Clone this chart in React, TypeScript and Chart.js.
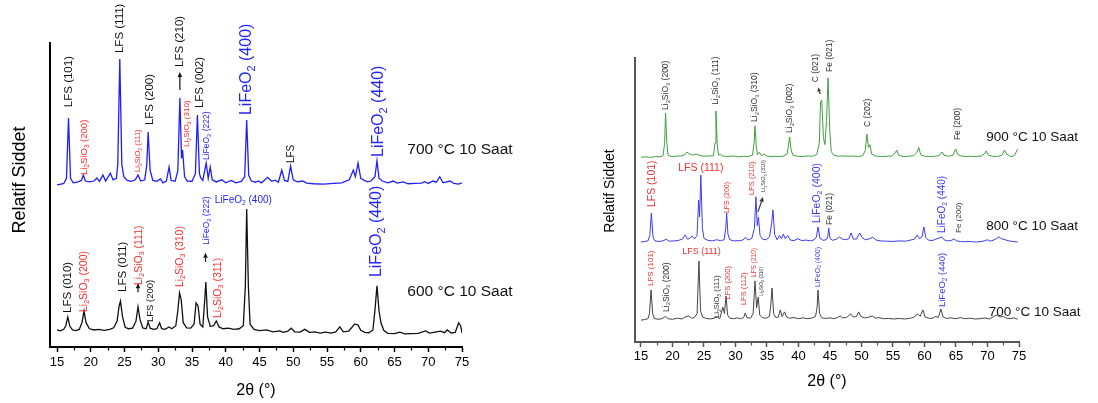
import React, { useEffect, useRef } from 'react';
import { Chart, registerables } from 'chart.js';
Chart.register(...registerables);

type P = [number, number];
type Ann = { x: number; y: number; t: string; c: string; s: number; m: 'v' | 'h' | 'l' };
type Arw = { x1: number; y1: number; x2: number; y2: number; c: string; h: number };

const FONT = '"Liberation Sans", Arial, Helvetica, sans-serif';

// ---------- axis ticks ----------
const xTickValues = [15, 20, 25, 30, 35, 40, 45, 50, 55, 60, 65, 70, 75];
const xMinorValues = [17.5, 22.5, 27.5, 32.5, 37.5, 42.5, 47.5, 52.5, 57.5, 62.5, 67.5, 72.5];
const xTitle = '2θ (°)';
const yTitle = 'Relatif Siddet';

// ---------- left panel series ----------
const left700: P[] = [
  [15.0, 53.3], [15.6, 53.6], [16.0, 53.8], [16.4, 55.5], [16.7, 75.3], [17.0, 55.5], [17.4, 54.0], [18.0, 54.2],
  [18.6, 54.8], [18.9, 56.5], [19.2, 54.6], [19.8, 54.3], [20.5, 54.6], [20.9, 55.6], [21.3, 54.5], [21.8, 56.6],
  [22.2, 54.6], [22.9, 57.2], [23.3, 55.0], [23.8, 55.5], [24.0, 60.0], [24.3, 94.7], [24.6, 60.0], [24.9, 56.0],
  [25.4, 54.8], [26.0, 54.5], [26.6, 55.0], [27.0, 56.6], [27.4, 54.6], [28.0, 55.0], [28.3, 60.0], [28.5, 70.7],
  [28.8, 58.0], [29.2, 54.8], [29.8, 54.5], [30.3, 55.3], [30.7, 54.0], [31.2, 54.6], [31.6, 59.2], [31.9, 54.8],
  [32.5, 54.5], [32.9, 58.0], [33.2, 81.9], [33.45, 62.0], [33.6, 64.8], [33.9, 56.0], [34.3, 54.6], [35.0, 54.5],
  [35.5, 57.0], [35.8, 76.3], [36.1, 57.0], [36.3, 55.6], [36.6, 54.8], [37.1, 60.5], [37.4, 55.5], [37.7, 59.2],
  [38.0, 55.0], [38.6, 54.3], [39.4, 55.0], [40.0, 54.0], [40.8, 54.8], [41.5, 54.0], [42.3, 54.5], [42.8, 56.0],
  [43.1, 74.7], [43.4, 56.5], [43.8, 54.6], [44.4, 54.2], [44.8, 54.6], [45.3, 54.0], [46.2, 55.8], [46.8, 54.5],
  [47.3, 54.9], [47.8, 54.2], [48.3, 58.2], [48.7, 54.8], [49.2, 54.5], [49.6, 59.5], [50.0, 55.0], [50.6, 54.3],
  [51.4, 54.6], [52.0, 53.9], [53.0, 53.7], [54.5, 53.6], [56.0, 53.8], [57.2, 54.0], [57.8, 54.6], [58.3, 55.0],
  [58.9, 58.2], [59.2, 56.0], [59.6, 60.5], [60.0, 55.5], [60.5, 54.8], [61.0, 54.3], [61.5, 54.6], [62.1, 56.0],
  [62.4, 61.2], [62.7, 55.5], [63.2, 54.6], [64.0, 54.0], [64.8, 54.6], [65.4, 53.9], [66.3, 54.3], [67.0, 53.7],
  [68.0, 53.8], [69.0, 53.9], [69.5, 54.4], [70.0, 53.8], [70.7, 54.6], [71.2, 54.2], [71.7, 56.0], [72.2, 54.0],
  [73.2, 54.6], [73.8, 53.8], [74.5, 53.6], [75.0, 54.0],
];

const left600: P[] = [
  [15.0, 5.6], [15.5, 5.3], [16.0, 5.8], [16.3, 7.0], [16.6, 9.9], [16.9, 6.8], [17.3, 5.6], [17.8, 5.4],
  [18.3, 5.8], [18.7, 8.0], [19.0, 11.8], [19.3, 8.0], [19.8, 6.0], [20.5, 5.6], [21.2, 5.8], [22.0, 5.5],
  [22.8, 5.8], [23.4, 6.3], [23.9, 8.5], [24.2, 13.5], [24.4, 15.1], [24.7, 10.0], [25.1, 6.5], [25.6, 6.0],
  [26.2, 6.2], [26.7, 8.5], [27.0, 13.2], [27.3, 9.0], [27.7, 6.3], [28.2, 6.0], [28.5, 8.2], [28.8, 6.2],
  [29.3, 5.8], [29.8, 6.0], [30.2, 8.0], [30.5, 6.0], [31.0, 5.8], [31.6, 6.6], [32.0, 6.0], [32.6, 7.0],
  [32.9, 12.0], [33.15, 17.8], [33.4, 15.5], [33.7, 8.0], [34.2, 6.3], [34.8, 6.2], [35.3, 7.5], [35.6, 14.5],
  [35.9, 13.5], [36.2, 7.5], [36.6, 6.6], [36.9, 16.0], [37.05, 21.4], [37.3, 10.0], [37.7, 6.8], [38.2, 7.0],
  [38.6, 8.6], [39.0, 6.6], [39.6, 6.0], [40.4, 6.2], [41.2, 5.8], [42.0, 6.0], [42.6, 7.0], [42.9, 20.0],
  [43.1, 45.4], [43.35, 20.0], [43.6, 7.5], [44.2, 5.8], [45.0, 5.4], [46.0, 5.6], [47.0, 5.0], [48.0, 5.3],
  [48.5, 4.8], [49.2, 5.2], [49.7, 6.2], [50.2, 5.0], [51.0, 4.9], [51.7, 5.8], [52.4, 4.8], [53.2, 5.0],
  [54.0, 4.6], [54.8, 4.9], [55.6, 4.6], [56.3, 5.0], [56.9, 6.6], [57.4, 5.0], [58.2, 5.2], [58.7, 6.5],
  [59.1, 7.6], [59.6, 7.2], [60.0, 5.5], [60.6, 4.8], [61.2, 4.7], [61.8, 5.6], [62.1, 12.0], [62.4, 20.1],
  [62.7, 12.0], [63.0, 7.9], [63.4, 5.5], [64.0, 4.5], [65.0, 4.4], [65.8, 4.9], [66.5, 4.3], [67.5, 4.4],
  [68.5, 4.5], [69.6, 5.3], [70.2, 4.6], [71.0, 4.9], [71.8, 5.2], [72.4, 4.7], [72.8, 5.6], [73.4, 4.6],
  [74.0, 4.8], [74.5, 7.9], [74.8, 7.0], [75.0, 4.6],
];

// ---------- right panel series ----------
const right900: P[] = [
  [15.0, 65.1], [15.8, 65.2], [16.5, 65.0], [17.3, 65.3], [18.0, 65.2], [18.5, 65.6], [18.75, 70.0], [18.9, 80.6],
  [19.1, 70.0], [19.3, 65.8], [19.8, 65.3], [20.5, 65.4], [21.3, 65.5], [22.0, 66.0], [22.3, 66.9], [22.7, 66.2],
  [23.2, 65.8], [23.8, 66.2], [24.3, 65.7], [25.0, 65.4], [25.8, 65.5], [26.5, 65.6], [26.75, 70.0], [26.9, 81.3],
  [27.1, 70.0], [27.3, 65.8], [27.6, 66.1], [28.0, 65.5], [28.8, 65.3], [29.6, 65.5], [30.5, 65.2], [31.3, 65.4],
  [32.0, 65.3], [32.7, 65.8], [32.95, 70.0], [33.1, 76.1], [33.3, 69.0], [33.5, 66.0], [33.8, 66.8], [34.1, 65.6],
  [34.5, 66.2], [34.9, 65.5], [35.5, 65.3], [36.3, 65.4], [37.0, 65.3], [37.7, 65.5], [38.2, 66.2], [38.45, 70.0],
  [38.6, 72.2], [38.8, 68.0], [39.1, 65.8], [39.8, 65.4], [40.6, 65.3], [41.4, 65.5], [42.2, 65.4], [42.9, 66.0],
  [43.3, 70.0], [43.5, 84.5], [43.7, 85.2], [43.95, 72.0], [44.2, 69.5], [44.45, 78.0], [44.7, 93.0], [44.95, 75.0],
  [45.2, 67.0], [45.6, 65.8], [46.3, 65.4], [47.0, 65.5], [47.8, 65.4], [48.6, 65.5], [49.4, 65.3], [50.2, 65.6],
  [50.6, 67.5], [50.85, 73.2], [51.1, 68.5], [51.35, 69.5], [51.6, 66.2], [52.2, 65.5], [53.0, 65.3], [54.0, 65.4],
  [54.8, 65.5], [55.35, 66.6], [55.6, 67.6], [55.9, 65.8], [56.6, 65.3], [57.5, 65.4], [58.3, 65.6], [58.8, 66.8],
  [59.1, 68.5], [59.4, 65.9], [60.0, 65.4], [60.8, 65.3], [61.6, 65.4], [62.3, 65.6], [62.8, 66.9], [63.1, 65.8],
  [63.8, 65.4], [64.5, 65.7], [64.95, 68.0], [65.3, 66.0], [65.8, 65.5], [66.5, 65.3], [67.3, 65.4], [68.2, 65.3],
  [69.0, 65.5], [69.5, 66.2], [69.8, 67.3], [70.1, 65.8], [70.8, 65.4], [71.6, 65.3], [72.3, 65.8], [72.7, 67.6],
  [73.0, 66.3], [73.5, 65.5], [73.9, 65.3], [74.3, 65.8], [74.8, 68.0],
];

const right800: P[] = [
  [15.0, 35.2], [15.6, 35.4], [16.1, 35.6], [16.4, 37.5], [16.65, 45.4], [16.9, 37.0], [17.2, 35.6], [17.8, 35.4],
  [18.5, 35.6], [19.0, 36.2], [19.5, 35.5], [20.3, 35.6], [21.0, 35.8], [21.6, 36.3], [22.0, 37.7], [22.4, 36.2],
  [22.8, 36.6], [23.1, 37.3], [23.5, 36.3], [23.9, 37.5], [24.15, 50.0], [24.3, 44.0], [24.5, 58.8], [24.75, 40.0],
  [25.0, 36.5], [25.6, 35.8], [26.3, 35.6], [27.0, 36.0], [27.6, 35.7], [28.2, 36.0], [28.45, 40.0], [28.6, 45.4],
  [28.8, 38.0], [29.1, 36.0], [29.8, 35.6], [30.6, 35.7], [31.2, 35.9], [31.6, 36.9], [32.0, 35.9], [32.6, 36.5],
  [33.0, 40.0], [33.25, 51.1], [33.45, 41.0], [33.65, 44.0], [33.9, 37.5], [34.3, 36.2], [34.9, 36.0], [35.4, 37.0],
  [35.75, 42.0], [35.95, 46.5], [36.2, 38.0], [36.6, 36.0], [37.0, 37.5], [37.3, 36.3], [37.6, 38.0], [37.9, 36.4],
  [38.3, 37.5], [38.7, 35.9], [39.3, 35.7], [39.9, 36.4], [40.5, 35.7], [41.2, 35.9], [41.9, 35.6], [42.5, 36.0],
  [42.85, 37.0], [43.1, 40.5], [43.4, 36.6], [43.9, 35.8], [44.4, 36.0], [44.65, 37.0], [44.8, 40.1], [45.0, 36.5],
  [45.4, 35.8], [46.0, 36.2], [46.5, 37.0], [47.0, 36.2], [47.5, 36.0], [48.0, 36.4], [48.35, 38.4], [48.7, 36.2],
  [49.2, 36.3], [49.7, 38.4], [50.1, 36.8], [50.6, 36.0], [51.2, 36.3], [51.8, 36.9], [52.3, 35.9], [53.0, 35.6],
  [54.0, 35.5], [55.0, 35.4], [56.0, 35.6], [57.0, 35.5], [57.8, 35.9], [58.4, 36.2], [58.85, 37.7], [59.2, 36.4],
  [59.6, 37.0], [59.9, 40.5], [60.2, 36.8], [60.6, 35.9], [61.2, 35.7], [61.8, 36.2], [62.3, 36.6], [62.75, 37.0],
  [63.1, 36.0], [63.6, 35.6], [64.2, 35.7], [64.7, 36.3], [65.1, 35.6], [65.7, 35.4], [66.4, 35.3], [67.2, 35.4],
  [68.0, 35.2], [68.8, 35.3], [69.5, 35.6], [70.0, 36.0], [70.5, 35.5], [71.3, 36.2], [71.8, 37.0], [72.2, 36.4],
  [72.8, 36.0], [73.4, 35.6], [74.0, 35.4], [74.8, 35.2],
];

const right700: P[] = [
  [15.0, 7.7], [15.6, 7.9], [16.1, 8.2], [16.35, 10.0], [16.6, 18.3], [16.85, 10.0], [17.1, 8.3], [17.7, 8.0],
  [18.3, 8.2], [18.9, 9.0], [19.3, 8.2], [20.0, 8.0], [20.8, 8.4], [21.5, 8.1], [22.0, 8.8], [22.6, 9.2],
  [23.0, 8.4], [23.5, 8.6], [23.9, 10.0], [24.2, 28.5], [24.45, 11.0], [24.8, 8.7], [25.4, 8.3], [26.0, 8.1],
  [26.6, 8.4], [27.1, 8.8], [27.5, 8.2], [28.0, 12.3], [28.25, 10.0], [28.5, 16.2], [28.75, 9.5], [29.1, 8.4],
  [29.7, 8.2], [30.3, 8.5], [30.8, 8.2], [31.3, 8.6], [31.55, 10.2], [31.8, 8.6], [32.4, 8.4], [32.8, 10.0],
  [33.1, 21.5], [33.35, 12.0], [33.6, 15.8], [33.85, 9.5], [34.3, 8.5], [34.9, 8.4], [35.4, 9.0], [35.6, 13.0],
  [35.8, 19.0], [36.05, 10.0], [36.4, 8.6], [36.8, 8.8], [37.1, 11.3], [37.4, 9.0], [37.8, 10.6], [38.1, 8.8],
  [38.6, 8.4], [39.3, 8.6], [40.0, 8.2], [40.7, 8.5], [41.4, 8.2], [42.1, 8.4], [42.7, 9.0], [42.95, 12.0],
  [43.1, 18.3], [43.35, 10.0], [43.7, 8.5], [44.3, 8.3], [45.0, 8.5], [45.6, 8.2], [46.2, 8.6], [46.6, 9.2],
  [47.0, 8.5], [47.6, 8.6], [48.3, 9.9], [48.7, 8.8], [49.2, 9.0], [49.55, 10.6], [49.9, 9.0], [50.5, 8.5],
  [51.1, 8.7], [51.7, 9.2], [52.2, 8.4], [52.8, 8.6], [53.5, 8.2], [54.3, 8.3], [55.1, 8.1], [56.0, 8.3],
  [56.8, 8.1], [57.6, 8.3], [58.3, 8.7], [58.9, 9.9], [59.3, 9.0], [59.75, 11.3], [60.1, 8.8], [60.6, 8.4],
  [61.2, 8.3], [61.8, 9.0], [62.2, 8.6], [62.6, 11.6], [62.95, 8.8], [63.5, 8.3], [64.2, 8.5], [65.0, 8.2],
  [65.7, 8.6], [66.4, 8.2], [67.2, 8.4], [68.0, 8.1], [68.8, 8.2], [69.6, 8.5], [70.3, 8.1], [71.0, 9.0],
  [71.5, 9.5], [72.0, 8.8], [72.5, 9.0], [73.0, 8.4], [73.6, 8.2], [74.2, 8.5], [74.8, 8.0],
];

// ---------- annotations ----------
const K = '#111111';
const R = '#ff2a2a';
const B = '#2323ff';
const K2 = '#333333';
const R2 = '#ee3030';
const B2 = '#3a3aee';

const leftAnns: Ann[] = [
  { x: 16.7, y: 78.9, t: 'LFS (101)', c: K, s: 11.5, m: 'v' },
  { x: 19.0, y: 56.6, t: 'Li_2SiO_3 (200)', c: R, s: 9.5, m: 'v' },
  { x: 24.3, y: 96.7, t: 'LFS (111)', c: K, s: 11.5, m: 'v' },
  { x: 27.0, y: 57.6, t: 'Li_2SiO_3 (111)', c: R, s: 7.5, m: 'v' },
  { x: 28.8, y: 73.0, t: 'LFS (200)', c: K, s: 11.5, m: 'v' },
  { x: 33.2, y: 92.1, t: 'LFS (210)', c: K, s: 11.5, m: 'v' },
  { x: 34.3, y: 65.8, t: 'Li_2SiO_3 (310)', c: R, s: 8, m: 'v' },
  { x: 36.2, y: 78.6, t: 'LFS (002)', c: K, s: 11.5, m: 'v' },
  { x: 37.2, y: 61.5, t: 'LiFeO_2 (222)', c: B, s: 8.5, m: 'v' },
  { x: 43.15, y: 76.3, t: 'LiFeO_2 (400)', c: B, s: 16, m: 'v' },
  { x: 49.7, y: 60.5, t: 'LFS', c: K, s: 10, m: 'v' },
  { x: 62.7, y: 62.5, t: 'LiFeO_2 (440)', c: B, s: 16, m: 'v' },
  { x: 16.6, y: 11.2, t: 'LFS (010)', c: K, s: 11.5, m: 'v' },
  { x: 19.0, y: 11.5, t: 'Li_2SiO_3 (200)', c: R, s: 10.5, m: 'v' },
  { x: 24.8, y: 18.1, t: 'LFS (011)', c: K, s: 11.5, m: 'v' },
  { x: 27.15, y: 20.4, t: 'Li_2SiO_3 (111)', c: R, s: 10.5, m: 'v' },
  { x: 28.9, y: 8.2, t: 'LFS (200)', c: K, s: 9.5, m: 'v' },
  { x: 33.2, y: 19.7, t: 'Li_2SiO_3 (310)', c: R, s: 10.5, m: 'v' },
  { x: 37.2, y: 33.6, t: 'LiFeO_2 (222)', c: B, s: 8.5, m: 'v' },
  { x: 38.9, y: 9.5, t: 'Li_2SiO_3 (311)', c: R, s: 10.5, m: 'v' },
  { x: 42.6, y: 48.4, t: 'LiFeO_2 (400)', c: B, s: 10, m: 'h' },
  { x: 62.4, y: 23.0, t: 'LiFeO_2 (440)', c: B, s: 16, m: 'v' },
  { x: 66.9, y: 64.8, t: '700 °C 10 Saat', c: K, s: 15.5, m: 'l' },
  { x: 66.9, y: 18.1, t: '600 °C 10 Saat', c: K, s: 15.5, m: 'l' },
];

const leftArrows: Arw[] = [
  { x1: 33.2, y1: 84.5, x2: 33.2, y2: 90.5, c: K, h: 5 },
  { x1: 27.0, y1: 18.0, x2: 27.0, y2: 21.0, c: K, h: 5 },
  { x1: 37.0, y1: 28.0, x2: 37.0, y2: 31.0, c: K, h: 5 },
];

const rightAnns: Ann[] = [
  { x: 18.9, y: 81.7, t: 'Li_2SiO_3 (200)', c: K2, s: 8.5, m: 'v' },
  { x: 26.9, y: 83.5, t: 'Li_2SiO_3 (111)', c: K2, s: 8.5, m: 'v' },
  { x: 33.1, y: 77.5, t: 'Li_2SiO_3 (310)', c: K2, s: 8.5, m: 'v' },
  { x: 38.6, y: 73.6, t: 'Li_2SiO_3 (002)', c: K2, s: 8.5, m: 'v' },
  { x: 42.8, y: 91.5, t: 'C (021)', c: K2, s: 8.5, m: 'v' },
  { x: 45.0, y: 95.1, t: 'Fe (021)', c: K2, s: 8.5, m: 'v' },
  { x: 50.9, y: 75.7, t: 'C (202)', c: K2, s: 8.5, m: 'v' },
  { x: 65.2, y: 71.1, t: 'Fe (200)', c: K2, s: 8.5, m: 'v' },
  { x: 16.7, y: 47.5, t: 'LFS (101)', c: R2, s: 10.5, m: 'v' },
  { x: 24.5, y: 61.3, t: 'LFS (111)', c: R2, s: 10.5, m: 'h' },
  { x: 28.65, y: 45.4, t: 'LFS (200)', c: R2, s: 7, m: 'v' },
  { x: 32.6, y: 51.8, t: 'LFS (210)', c: R2, s: 7.5, m: 'v' },
  { x: 34.5, y: 52.8, t: 'Li_2SiO_3 (310)', c: K2, s: 5.5, m: 'v' },
  { x: 42.9, y: 41.9, t: 'LiFeO_2 (400)', c: B2, s: 10.5, m: 'v' },
  { x: 45.0, y: 41.2, t: 'Fe (021)', c: K2, s: 8.5, m: 'v' },
  { x: 62.8, y: 38.4, t: 'LiFeO_2 (440)', c: B2, s: 10, m: 'v' },
  { x: 65.5, y: 38.4, t: 'Fe (200)', c: K2, s: 8, m: 'v' },
  { x: 16.6, y: 19.7, t: 'LFS (101)', c: R2, s: 8, m: 'v' },
  { x: 19.0, y: 10.6, t: 'Li_2SiO_3 (200)', c: K2, s: 8.5, m: 'v' },
  { x: 24.6, y: 31.7, t: 'LFS (111)', c: R2, s: 9, m: 'h' },
  { x: 27.1, y: 8.5, t: 'Li_2SiO_3 (111)', c: K2, s: 7.5, m: 'v' },
  { x: 28.8, y: 15.0, t: 'LFS (200)', c: R2, s: 7.5, m: 'v' },
  { x: 31.3, y: 13.0, t: 'LFS (112)', c: R2, s: 7.5, m: 'v' },
  { x: 32.9, y: 22.9, t: 'LFS (210)', c: R2, s: 6.5, m: 'v' },
  { x: 34.2, y: 16.2, t: 'Li_2SiO_3 (310)', c: K2, s: 5, m: 'v' },
  { x: 43.1, y: 19.4, t: 'LiFeO_2 (400)', c: B2, s: 7, m: 'v' },
  { x: 62.8, y: 12.3, t: 'LiFeO_2 (440)', c: B2, s: 9.5, m: 'v' },
  { x: 69.8, y: 72.2, t: '900 °C 10 Saat', c: K, s: 13.5, m: 'l' },
  { x: 69.8, y: 40.8, t: '800 °C 10 Saat', c: K, s: 13.5, m: 'l' },
  { x: 70.2, y: 10.6, t: '700 °C 10 Saat', c: K, s: 13.5, m: 'l' },
];

const rightArrows: Arw[] = [
  { x1: 43.45, y1: 87.3, x2: 43.1, y2: 89.6, c: K2, h: 4 },
  { x1: 33.57, y1: 45.8, x2: 34.37, y2: 51.1, c: K2, h: 5 },
];

// ---------- drawing helpers ----------
type Seg = { t: string; sub: boolean };
function parse(text: string): Seg[] {
  const segs: Seg[] = [];
  for (let i = 0; i < text.length; i++) {
    if (text[i] === '_' && i + 1 < text.length) {
      segs.push({ t: text[i + 1], sub: true });
      i++;
    } else {
      const last = segs[segs.length - 1];
      if (last && !last.sub) last.t += text[i];
      else segs.push({ t: text[i], sub: false });
    }
  }
  return segs;
}

function drawRich(ctx: CanvasRenderingContext2D, text: string, size: number, color: string, align: 'start' | 'center') {
  const segs = parse(text);
  const subSize = size * 0.68;
  const widths = segs.map((s) => {
    ctx.font = `${s.sub ? subSize : size}px ${FONT}`;
    return ctx.measureText(s.t).width;
  });
  const total = widths.reduce((a, b) => a + b, 0);
  let cx = align === 'center' ? -total / 2 : 0;
  ctx.fillStyle = color;
  ctx.textBaseline = 'middle';
  ctx.textAlign = 'left';
  segs.forEach((s, i) => {
    ctx.font = `${s.sub ? subSize : size}px ${FONT}`;
    ctx.fillText(s.t, cx, s.sub ? size * 0.3 : 0);
    cx += widths[i];
  });
}

function makePlugin(id: string, anns: Ann[], arrows: Arw[], yt: { x: number; y: number; s: number }, axisColor: string) {
  return {
    id,
    afterDraw(chart: any) {
      const { ctx, scales, chartArea } = chart;
      const xs = scales.x;
      const ys = scales.y;
      ctx.save();
      // minor ticks
      ctx.strokeStyle = axisColor;
      ctx.lineWidth = 1.2;
      xMinorValues.forEach((v) => {
        const px = Math.round(xs.getPixelForValue(v)) + 0.5;
        ctx.beginPath();
        ctx.moveTo(px, chartArea.bottom);
        ctx.lineTo(px, chartArea.bottom + 3.5);
        ctx.stroke();
      });
      // y title
      ctx.save();
      ctx.translate(yt.x, yt.y);
      ctx.rotate(-Math.PI / 2);
      ctx.fillStyle = '#000';
      ctx.font = `${yt.s}px ${FONT}`;
      ctx.textAlign = 'center';
      ctx.textBaseline = 'middle';
      ctx.fillText(yTitle, 0, 0);
      ctx.restore();
      // labels
      anns.forEach((a) => {
        const px = xs.getPixelForValue(a.x);
        const py = ys.getPixelForValue(a.y);
        ctx.save();
        ctx.translate(px, py);
        if (a.m === 'v') {
          ctx.rotate(-Math.PI / 2);
          drawRich(ctx, a.t, a.s, a.c, 'start');
        } else if (a.m === 'h') {
          drawRich(ctx, a.t, a.s, a.c, 'center');
        } else {
          drawRich(ctx, a.t, a.s, a.c, 'start');
        }
        ctx.restore();
      });
      // arrows
      arrows.forEach((a) => {
        const x1 = xs.getPixelForValue(a.x1);
        const y1 = ys.getPixelForValue(a.y1);
        const x2 = xs.getPixelForValue(a.x2);
        const y2 = ys.getPixelForValue(a.y2);
        const ang = Math.atan2(y2 - y1, x2 - x1);
        const bx = x2 - a.h * Math.cos(ang);
        const by = y2 - a.h * Math.sin(ang);
        const w = a.h * 0.45;
        ctx.strokeStyle = a.c;
        ctx.fillStyle = a.c;
        ctx.lineWidth = 1.2;
        ctx.beginPath();
        ctx.moveTo(x1, y1);
        ctx.lineTo(bx, by);
        ctx.stroke();
        ctx.beginPath();
        ctx.moveTo(x2, y2);
        ctx.lineTo(bx + w * Math.sin(ang), by - w * Math.cos(ang));
        ctx.lineTo(bx - w * Math.sin(ang), by + w * Math.cos(ang));
        ctx.closePath();
        ctx.fill();
      });
      ctx.restore();
    },
  };
}

type Cfg = {
  series: { data: P[]; color: string; width: number }[];
  xMin: number;
  padTop: number;
  padRight: number;
  yW: number;
  xH: number;
  axisColor: string;
  tickPad: number;
  titlePadBottom: number;
  plugin: any;
};

function buildConfig(c: Cfg): any {
  return {
    type: 'scatter',
    data: {
      datasets: c.series.map((s) => ({
        data: s.data.map(([x, y]) => ({ x, y })),
        showLine: true,
        borderColor: s.color,
        borderWidth: s.width,
        pointRadius: 0,
        pointHoverRadius: 0,
        tension: 0,
        fill: false,
      })),
    },
    options: {
      responsive: false,
      animation: false,
      devicePixelRatio: 1,
      events: [],
      layout: { padding: { left: 0, top: c.padTop, right: c.padRight, bottom: 0 } },
      plugins: { legend: { display: false }, tooltip: { enabled: false } },
      scales: {
        x: {
          type: 'linear',
          position: 'bottom',
          min: c.xMin,
          max: 75,
          afterBuildTicks: (s: any) => {
            s.ticks = xTickValues.map((v) => ({ value: v }));
          },
          afterFit: (s: any) => {
            s.height = c.xH;
          },
          ticks: {
            font: { size: 13, family: FONT },
            color: '#000',
            padding: c.tickPad,
            maxRotation: 0,
            autoSkip: false,
          },
          grid: { display: true, drawOnChartArea: false, drawTicks: true, tickLength: 5, tickColor: c.axisColor, tickWidth: 1.5 },
          border: { display: true, color: c.axisColor, width: 2 },
          title: {
            display: true,
            text: xTitle,
            font: { size: 16, family: FONT },
            color: '#000',
            padding: { top: 0, bottom: c.titlePadBottom },
          },
        },
        y: {
          type: 'linear',
          position: 'left',
          min: 0,
          max: 100,
          afterFit: (s: any) => {
            s.width = c.yW;
          },
          ticks: { display: false },
          grid: { display: true, drawOnChartArea: false, drawTicks: false },
          border: { display: true, color: c.axisColor, width: 2 },
        },
      },
    },
    plugins: [c.plugin],
  };
}

export default function App() {
  const leftRef = useRef<HTMLCanvasElement>(null);
  const rightRef = useRef<HTMLCanvasElement>(null);

  useEffect(() => {
    const c1 = new Chart(
      leftRef.current as HTMLCanvasElement,
      buildConfig({
        series: [
          { data: left700, color: '#1e1eff', width: 1.3 },
          { data: left600, color: '#111111', width: 1.3 },
        ],
        xMin: 13.96,
        padTop: 43,
        padRight: 118,
        yW: 50,
        xH: 56,
        axisColor: '#000',
        tickPad: 3,
        titlePadBottom: 3,
        plugin: makePlugin('leftAnn', leftAnns, leftArrows, { x: 20, y: 180, s: 18 }, '#000'),
      })
    );
    const c2 = new Chart(
      rightRef.current as HTMLCanvasElement,
      buildConfig({
        series: [
          { data: right900, color: '#3f9f3f', width: 1 },
          { data: right800, color: '#3c3cf0', width: 1 },
          { data: right700, color: '#444444', width: 1 },
        ],
        xMin: 14.05,
        padTop: 58,
        padRight: 79,
        yW: 55,
        xH: 61,
        axisColor: '#555',
        tickPad: 2,
        titlePadBottom: 12,
        plugin: makePlugin('rightAnn', rightAnns, rightArrows, { x: 30, y: 191, s: 14 }, '#555'),
      })
    );
    return () => {
      c1.destroy();
      c2.destroy();
    };
  }, []);

  return (
    <div style={{ position: 'fixed', left: 0, top: 0, width: 1098, height: 403, background: '#fff', overflow: 'hidden' }}>
      <canvas ref={leftRef} width={580} height={403} style={{ position: 'absolute', left: 0, top: 0, width: 580, height: 403 }} />
      <canvas
        ref={rightRef}
        width={518}
        height={403}
        style={{ position: 'absolute', left: 580, top: 0, width: 518, height: 403 }}
      />
    </div>
  );
}
